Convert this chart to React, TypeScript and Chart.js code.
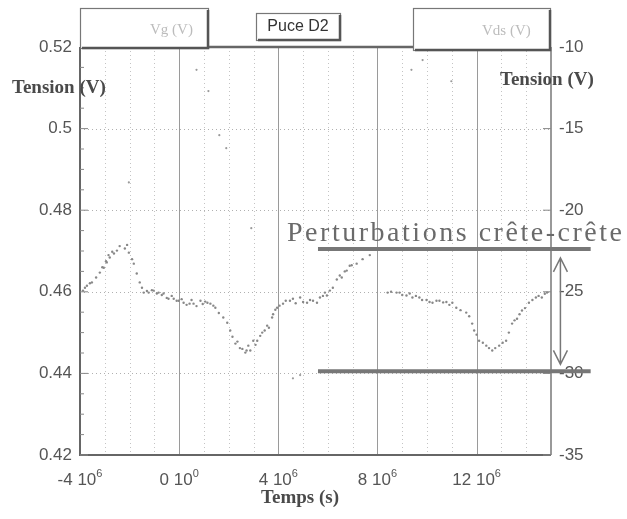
import React, { useEffect, useRef } from "react";
import { Chart, registerables } from "chart.js";

Chart.register(...registerables);

// Time in units of 10^6 s
const vgTime = [
  -3.88, -3.8, -3.72, -3.6, -3.52, -3.35, -3.2, -3.1, -3.04, -2.95, -2.92, -2.85, -2.8, -2.7, -2.63, -2.51, -2.4,
  -2.19, -2.1, -2.03, -1.9, -1.83, -1.71, -1.59, -1.5, -1.43, -1.3, -1.23, -1.1, -1.03, -0.9, -0.83, -0.7, -0.63,
  -0.5, -0.43, -0.3, -0.22, -0.1, -0.02, 0.1, 0.18, 0.3, 0.42, 0.5, 0.58, 0.7, 0.86, 0.95, 1.05, 1.14, 1.26, 1.38,
  1.46, 1.6, 1.78, 1.94, 2.06, 2.15, 2.27, 2.35, 2.45, 2.55, 2.67, 2.72, 2.79, 2.87, 2.99, 3.08, 3.15, 3.27, 3.35,
  3.45, 3.55, 3.62, 3.75, 3.79, 3.88, 3.95, 4.05, 4.19, 4.3, 4.47, 4.59, 4.7, 4.88, 5.0, 5.16, 5.28, 5.4, 5.56,
  5.68, 5.8, 5.88, 5.96, 6.08, 6.2, 6.36, 6.48, 6.56, 6.68, 6.76, 6.88, 6.96, 7.16, 7.4, 7.69, 8.41, 8.55, 8.77,
  8.89, 9.0, 9.17, 9.3, 9.41, 9.55, 9.69, 9.8, 9.98, 10.1, 10.22, 10.38, 10.5, 10.65, 10.78, 10.9, 11.02, 11.18,
  11.35, 11.58, 11.7, 11.82, 11.9, 12.0, 12.1, 12.25, 12.39, 12.5, 12.63, 12.75, 12.91, 13.05, 13.19, 13.3, 13.43,
  13.53, 13.63, 13.73, 13.83, 13.95, 14.11, 14.25, 14.39, 14.5, 14.63, 14.75, 14.84,
];
const vgValue = [
  0.4603, 0.461, 0.4615, 0.4621, 0.4623, 0.4635, 0.4647, 0.466, 0.4659, 0.4675, 0.4672, 0.469, 0.4684, 0.4698,
  0.4694, 0.4701, 0.4712, 0.4706, 0.4715, 0.4696, 0.468, 0.4669, 0.4645, 0.4623, 0.461, 0.4598, 0.4602, 0.4598,
  0.4604, 0.4603, 0.4596, 0.4598, 0.4592, 0.4596, 0.4585, 0.4583, 0.459, 0.4583, 0.4578, 0.4578, 0.4582, 0.4573,
  0.4568, 0.4571, 0.458, 0.4571, 0.4565, 0.4578, 0.457, 0.4576, 0.4573, 0.4571, 0.4566, 0.4561, 0.4548, 0.4537,
  0.4524, 0.4505, 0.449, 0.4473, 0.4478, 0.4462, 0.446, 0.4451, 0.4456, 0.4468, 0.4456, 0.448, 0.447, 0.448,
  0.4492, 0.45, 0.4505, 0.4517, 0.4512, 0.4537, 0.4545, 0.4556, 0.4561, 0.4566, 0.4571, 0.4578, 0.4578, 0.4583,
  0.4572, 0.4586, 0.4575, 0.4573, 0.458, 0.4578, 0.4573, 0.4586, 0.459, 0.4598, 0.4591, 0.4603, 0.461, 0.463,
  0.464, 0.4635, 0.465, 0.4652, 0.4664, 0.4665, 0.4669, 0.468, 0.469, 0.4598, 0.46, 0.4598, 0.4598, 0.4592,
  0.4591, 0.4596, 0.4586, 0.459, 0.4586, 0.458, 0.458, 0.4575, 0.4573, 0.4578, 0.4578, 0.4574, 0.4575, 0.4568,
  0.4573, 0.4561, 0.4555, 0.4549, 0.454, 0.4522, 0.4505, 0.4495, 0.448, 0.4475, 0.4468, 0.4462, 0.4456, 0.4462,
  0.4468, 0.4475, 0.448, 0.45, 0.4522, 0.453, 0.4534, 0.4545, 0.4554, 0.456, 0.4573, 0.458, 0.4586, 0.459,
  0.4586, 0.4595, 0.4598,
];
const vdsTime = [-2.03, 0.7, 1.18, 1.62, 1.9, 2.91, 4.59, 4.88, 9.37, 9.82, 10.98];
const vdsValue = [-18.3, -11.4, -12.7, -15.4, -16.2, -21.1, -30.3, -30.1, -11.4, -10.8, -12.1];

const xTickValues = [-4, 0, 4, 8, 12];
const xTickMantissa = ["-4 10", "0 10", "4 10", "8 10", "12 10"];
const xTickExponent = ["6", "0", "6", "6", "6"];
const leftTicks = [0.42, 0.44, 0.46, 0.48, 0.5, 0.52];
const rightTicks = [-35, -30, -25, -20, -15, -10];
const perturbHigh = 0.4705;
const perturbLow = 0.4405;
const perturbStart = 5.6;
const perturbEnd = 16.6;
const arrowTime = 15.38;

const SANS = "'Liberation Sans', Arial, sans-serif";
const SERIF = "'Liberation Serif', 'Times New Roman', serif";

const decorPlugin = {
  id: "decor",
  beforeDatasetsDraw(chart: any) {
    const { ctx, chartArea: a, scales } = chart;
    const x = scales.x;
    const y = scales.y;
    ctx.save();
    ctx.strokeStyle = "#c4c4c4";
    ctx.lineWidth = 1;
    ctx.setLineDash([1, 3]);
    for (let v = -3; v <= 14; v++) {
      if (v % 4 === 0) continue;
      const px = Math.round(x.getPixelForValue(v)) + 0.5;
      ctx.beginPath();
      ctx.moveTo(px, a.top);
      ctx.lineTo(px, a.bottom);
      ctx.stroke();
    }
    ctx.strokeStyle = "#b0b0b0";
    for (const v of [0.44, 0.46, 0.48, 0.5]) {
      const py = Math.round(y.getPixelForValue(v)) + 0.5;
      ctx.beginPath();
      ctx.moveTo(a.left, py);
      ctx.lineTo(a.right, py);
      ctx.stroke();
    }
    ctx.setLineDash([]);
    ctx.strokeStyle = "#9a9a9a";
    for (const v of [0, 4, 8, 12]) {
      const px = Math.round(x.getPixelForValue(v)) + 0.5;
      ctx.beginPath();
      ctx.moveTo(px, a.top);
      ctx.lineTo(px, a.bottom);
      ctx.stroke();
    }
    ctx.restore();
  },
  afterDraw(chart: any) {
    const { ctx, chartArea: a, scales } = chart;
    const x = scales.x;
    const y = scales.y;
    const y1 = scales.y1;
    ctx.save();
    ctx.strokeStyle = "#666";
    ctx.lineWidth = 2;
    ctx.beginPath();
    ctx.moveTo(a.left, a.top);
    ctx.lineTo(a.left, a.bottom);
    ctx.lineTo(a.right, a.bottom);
    ctx.stroke();
    ctx.lineWidth = 2.5;
    ctx.beginPath();
    ctx.moveTo(a.left, a.top);
    ctx.lineTo(a.right, a.top);
    ctx.stroke();
    ctx.strokeStyle = "#777";
    ctx.lineWidth = 1.5;
    ctx.beginPath();
    ctx.moveTo(a.right, a.top);
    ctx.lineTo(a.right, a.bottom);
    ctx.stroke();
    ctx.lineWidth = 1;
    ctx.strokeStyle = "#888";
    for (let v = 0.42; v <= 0.5201; v += 0.005) {
      const py = y.getPixelForValue(v);
      const major = Math.abs(Math.round(v * 50) - v * 50) < 1e-6;
      ctx.beginPath();
      ctx.moveTo(a.left, py);
      ctx.lineTo(a.left + (major ? 8 : 4), py);
      ctx.stroke();
    }
    for (const v of rightTicks) {
      const py = y1.getPixelForValue(v);
      ctx.beginPath();
      ctx.moveTo(a.right, py);
      ctx.lineTo(a.right - 8, py);
      ctx.stroke();
    }

    ctx.fillStyle = "#555";
    ctx.textBaseline = "alphabetic";
    xTickValues.forEach((v, i) => {
      const px = x.getPixelForValue(v);
      ctx.font = `17px ${SANS}`;
      const w1 = ctx.measureText(xTickMantissa[i]).width;
      ctx.font = `11px ${SANS}`;
      const w2 = ctx.measureText(xTickExponent[i]).width;
      const start = px - (w1 + w2) / 2;
      ctx.font = `17px ${SANS}`;
      ctx.textAlign = "left";
      ctx.fillText(xTickMantissa[i], start, 485);
      ctx.font = `11px ${SANS}`;
      ctx.fillText(xTickExponent[i], start + w1, 477);
    });

    ctx.fillStyle = "#4a4a4a";
    ctx.font = `bold 19px ${SERIF}`;
    ctx.textAlign = "left";
    ctx.textBaseline = "middle";
    ctx.fillText("Tension (V)", 12, 88);
    ctx.fillText("Tension (V)", 500, 80);
    ctx.textAlign = "center";
    ctx.fillText("Temps (s)", 300, 498);

    const box = (l: number, t: number, r: number, b: number) => {
      ctx.fillStyle = "#fff";
      ctx.fillRect(l, t, r - l, b - t);
      ctx.strokeStyle = "#777";
      ctx.lineWidth = 1.2;
      ctx.strokeRect(l + 0.5, t + 0.5, r - l, b - t);
      ctx.strokeStyle = "#555";
      ctx.lineWidth = 2.5;
      ctx.beginPath();
      ctx.moveTo(l + 2, b);
      ctx.lineTo(r, b);
      ctx.lineTo(r, t + 2);
      ctx.stroke();
    };
    box(80, 8, 208, 48);
    box(256, 13, 340, 40);
    box(413, 8, 550, 50);
    ctx.textBaseline = "middle";
    ctx.fillStyle = "#bcbcbc";
    ctx.font = `15px ${SERIF}`;
    ctx.textAlign = "left";
    ctx.fillText("Vg (V)", 150, 30);
    ctx.fillText("Vds (V)", 482, 31);
    ctx.fillStyle = "#333";
    ctx.font = `16px ${SANS}`;
    ctx.textAlign = "center";
    ctx.fillText("Puce D2", 298, 27);

    const yHi = y.getPixelForValue(perturbHigh);
    const yLo = y.getPixelForValue(perturbLow);
    const xs = x.getPixelForValue(perturbStart);
    const xe = x.getPixelForValue(perturbEnd);
    ctx.strokeStyle = "#777";
    ctx.lineWidth = 4;
    ctx.beginPath();
    ctx.moveTo(xs, yHi);
    ctx.lineTo(xe, yHi);
    ctx.moveTo(xs, yLo);
    ctx.lineTo(xe, yLo);
    ctx.stroke();

    const ax = x.getPixelForValue(arrowTime);
    const at = yHi + 9;
    const ab = yLo - 7;
    ctx.lineWidth = 1.5;
    ctx.beginPath();
    ctx.moveTo(ax, at);
    ctx.lineTo(ax, ab);
    ctx.moveTo(ax - 7, at + 14);
    ctx.lineTo(ax, at);
    ctx.lineTo(ax + 7, at + 14);
    ctx.moveTo(ax - 7, ab - 14);
    ctx.lineTo(ax, ab);
    ctx.lineTo(ax + 7, ab - 14);
    ctx.stroke();

    const label = "Perturbations crête-crête";
    ctx.font = `28px ${SERIF}`;
    const w = ctx.measureText(label).width;
    const target = 335;
    const extra = (target - w) / (label.length - 1);
    ctx.fillStyle = "#6a6a6a";
    ctx.textAlign = "left";
    ctx.textBaseline = "alphabetic";
    let cx = 287;
    for (const ch of label) {
      ctx.fillText(ch, cx, 241);
      cx += ctx.measureText(ch).width + extra;
    }
    ctx.restore();
  },
};

export default function App() {
  const ref = useRef<HTMLCanvasElement | null>(null);
  useEffect(() => {
    if (!ref.current) return;
    const chart = new Chart(ref.current, {
      type: "scatter",
      data: {
        datasets: [
          {
            label: "Vg (V)",
            data: vgTime.map((t, i) => ({ x: t, y: vgValue[i] })),
            yAxisID: "y",
            pointRadius: 1.2,
            pointBackgroundColor: "#888",
            pointBorderWidth: 0,
            showLine: false,
          },
          {
            label: "Vds (V)",
            data: vdsTime.map((t, i) => ({ x: t, y: vdsValue[i] })),
            yAxisID: "y1",
            pointRadius: 1.1,
            pointBackgroundColor: "#9a9a9a",
            pointBorderWidth: 0,
            showLine: false,
          },
        ],
      },
      options: {
        responsive: false,
        animation: false,
        devicePixelRatio: 1,
        layout: { padding: { top: 47, left: 0, right: 0, bottom: 0 } },
        plugins: { legend: { display: false }, tooltip: { enabled: false } },
        scales: {
          x: {
            type: "linear",
            min: -4,
            max: 15,
            grid: { display: false },
            border: { display: false },
            ticks: { display: false },
            afterFit: (s: any) => {
              s.height = 64;
            },
          },
          y: {
            type: "linear",
            position: "left",
            min: 0.42,
            max: 0.52,
            grid: { display: false, drawTicks: false },
            border: { display: false },
            afterBuildTicks: (s: any) => {
              s.ticks = leftTicks.map((v) => ({ value: v }));
            },
            ticks: {
              padding: 8,
              color: "#555",
              font: { family: SANS, size: 17 },
              callback: (v: any) => String(+Number(v).toFixed(2)),
            },
            afterFit: (s: any) => {
              s.width = 80;
            },
          },
          y1: {
            type: "linear",
            position: "right",
            min: -35,
            max: -10,
            grid: { display: false, drawTicks: false },
            border: { display: false },
            afterBuildTicks: (s: any) => {
              s.ticks = rightTicks.map((v) => ({ value: v }));
            },
            ticks: {
              padding: 8,
              color: "#555",
              font: { family: SANS, size: 17 },
              callback: (v: any) => String(v),
            },
            afterFit: (s: any) => {
              s.width = 76;
            },
          },
        },
      },
      plugins: [decorPlugin],
    });
    return () => chart.destroy();
  }, []);
  return (
    <div style={{ position: "absolute", left: 0, top: 0, width: 627, height: 519, background: "#fff" }}>
      <canvas ref={ref} width={627} height={519} />
    </div>
  );
}
